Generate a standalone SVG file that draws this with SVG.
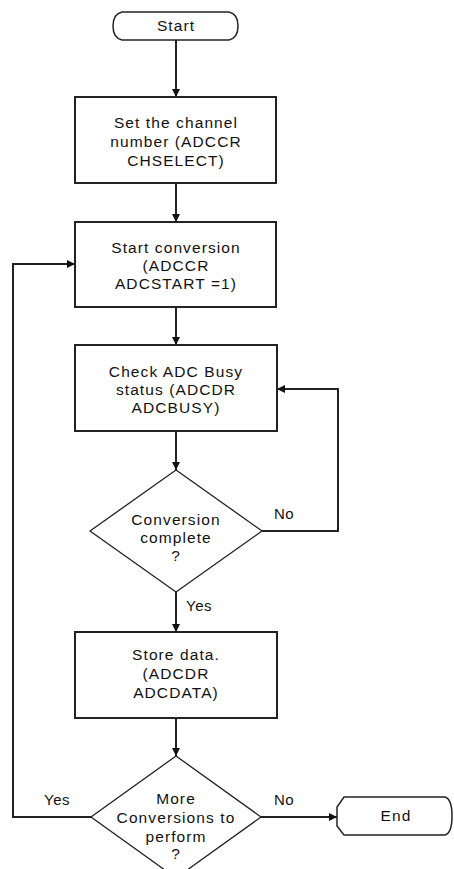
<svg xmlns="http://www.w3.org/2000/svg" width="454" height="869" viewBox="0 0 454 869">
<style>
.box{fill:#fff;stroke:#222;stroke-width:2}
.term{fill:#fff;stroke:#222;stroke-width:1.5}
.dia{fill:#fff;stroke:#222;stroke-width:1.3}
.t{font-family:"Liberation Sans",Arial,sans-serif;font-size:15.5px;fill:#111;text-anchor:middle;letter-spacing:1.1px}
.l{font-family:"Liberation Sans",Arial,sans-serif;font-size:15px;fill:#111;text-anchor:start;letter-spacing:0.5px}
.c{fill:none;stroke:#222;stroke-width:2}
</style>
<defs>
<marker id="ah" markerUnits="userSpaceOnUse" markerWidth="10" markerHeight="10" viewBox="0 0 10 10" refX="10" refY="5" orient="auto">
<path d="M2,1 L10,5 L2,9 Z" fill="#111"/>
</marker>
</defs>
<g id="connectors">
<path class="c" d="M176,40 V97" marker-end="url(#ah)"/>
<path class="c" d="M176,183 V222" marker-end="url(#ah)"/>
<path class="c" d="M176,307 V345" marker-end="url(#ah)"/>
<path class="c" d="M176,431 V470" marker-end="url(#ah)"/>
<path class="c" d="M176,592 V632" marker-end="url(#ah)"/>
<path class="c" d="M176,718 V756" marker-end="url(#ah)"/>
<path class="c" d="M262,531 H338 V389 H277" marker-end="url(#ah)"/>
<path class="c" d="M91,817 H13 V264 H75" marker-end="url(#ah)"/>
<path class="c" d="M261,817 H337" marker-end="url(#ah)"/>
<text class="l" x="274" y="519">No</text>
<text class="l" x="186" y="611">Yes</text>
<text class="l" x="44" y="805">Yes</text>
<text class="l" x="274" y="805">No</text>
</g>
<g id="start">
<path class="term" d="M122,12 H229 Q238,14 238,26 Q238,38 229,40 H122 Q113,38 113,26 Q113,14 122,12 Z"/>
<text class="t" x="176" y="31">Start</text>
</g>
<g id="set-channel">
<rect class="box" x="75" y="97" width="201" height="86"/>
<text class="t" x="176" y="128">Set the  channel</text>
<text class="t" x="176" y="147">number (ADCCR</text>
<text class="t" x="176" y="166">CHSELECT)</text>
</g>
<g id="start-conversion">
<rect class="box" x="75" y="222" width="201" height="85"/>
<text class="t" x="176" y="253">Start conversion</text>
<text class="t" x="176" y="271">(ADCCR</text>
<text class="t" x="176" y="289">ADCSTART =1)</text>
</g>
<g id="check-busy">
<rect class="box" x="75" y="345" width="202" height="86"/>
<text class="t" x="176" y="377">Check ADC Busy</text>
<text class="t" x="176" y="395">status (ADCDR</text>
<text class="t" x="176" y="413">ADCBUSY)</text>
</g>
<g id="conversion-complete">
<polygon class="dia" points="176,470 262,531 176,592 90,531"/>
<text class="t" x="176" y="525">Conversion</text>
<text class="t" x="176" y="543">complete</text>
<text class="t" x="176" y="561">?</text>
</g>
<g id="store-data">
<rect class="box" x="75" y="632" width="202" height="86"/>
<text class="t" x="176" y="660">Store data.</text>
<text class="t" x="176" y="679">(ADCDR</text>
<text class="t" x="176" y="698">ADCDATA)</text>
</g>
<g id="more-conversions">
<polygon class="dia" points="176,756 261,817 176,878 91,817"/>
<text class="t" x="176" y="804">More</text>
<text class="t" x="176" y="823">Conversions to</text>
<text class="t" x="176" y="842">perform</text>
<text class="t" x="176" y="859">?</text>
</g>
<g id="end">
<path class="term" d="M344,797 H445 Q452,799 452,816 Q452,833 445,835 H344 L337,826 V807 Z"/>
<text class="t" x="396" y="821">End</text>
</g>
</svg>
